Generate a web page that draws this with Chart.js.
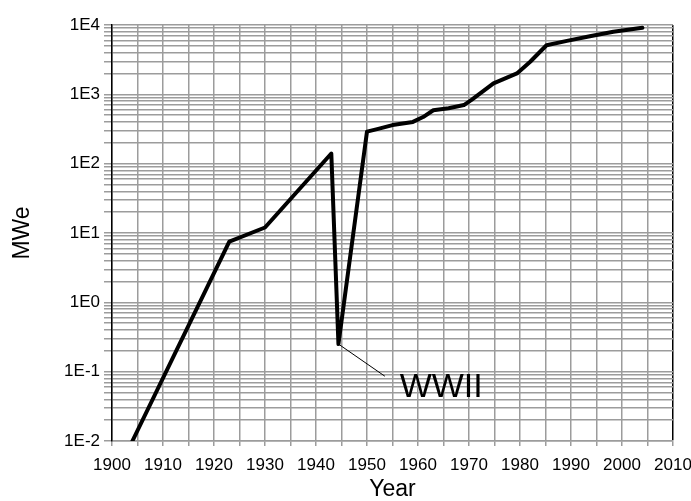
<!DOCTYPE html>
<html>
<head>
<meta charset="utf-8">
<script src="https://cdn.jsdelivr.net/npm/chart.js@4/dist/chart.umd.min.js"></script>
<style>
  html, body { margin: 0; padding: 0; background: #fff; }
  #wrap { width: 691px; height: 501px; }
</style>
</head>
<body>
<div id="wrap"><canvas id="c" width="691" height="501"></canvas></div>
<script>
// ---- data ----
const years = [1904, 1923, 1930, 1943, 1944.4, 1950, 1952, 1955, 1959, 1961, 1963, 1966, 1969, 1970.5, 1974.8, 1979.4, 1982, 1985.2, 1989.2, 1993.7, 1998.3, 2004];
const mwe   = [0.01, 7.5, 12, 140, 0.25, 290, 315, 360, 400, 470, 590, 630, 700, 830, 1440, 2000, 2950, 5100, 5900, 6900, 8000, 9100];

// leader line for the annotation
const leaderYears = [1944.4, 1953.5];
const leaderMwe   = [0.25, 0.086];
const annotationText = 'WWII';
const annotationYear = 1956.4;
const annotationMwe  = 0.059;

const yTickLabels = ['1E-2', '1E-1', '1E0', '1E1', '1E2', '1E3', '1E4'];
const yDecades    = [0.01, 0.1, 1, 10, 100, 1000, 10000];
const xMin = 1900, xMax = 2010;

const FONT = "'Liberation Sans', Arial, sans-serif";
const GRID = '#9c9c9c';

const annotationPlugin = {
  id: 'wwii',
  afterDatasetsDraw(chart) {
    const {ctx, scales} = chart;
    const x = scales.x.getPixelForValue(annotationYear);
    const y = scales.y.getPixelForValue(annotationMwe);
    ctx.save();
    ctx.font = "34px " + FONT;
    ctx.fillStyle = '#000';
    ctx.textAlign = 'left';
    ctx.textBaseline = 'middle';
    ctx.fillText(annotationText, x, y);
    ctx.restore();
  }
};

new Chart(document.getElementById('c'), {
  type: 'line',
  data: {
    datasets: [
      {
        data: years.map((yr, i) => ({x: yr, y: mwe[i]})),
        borderColor: '#000',
        borderWidth: 4,
        pointRadius: 0,
        tension: 0,
        fill: false,
        borderJoinStyle: 'round',
        borderCapStyle: 'round'
      },
      {
        data: leaderYears.map((yr, i) => ({x: yr, y: leaderMwe[i]})),
        borderColor: '#000',
        borderWidth: 1,
        pointRadius: 0,
        tension: 0,
        fill: false
      }
    ]
  },
  options: {
    responsive: false,
    animation: false,
    devicePixelRatio: 1,
    layout: { padding: { top: 25, right: 18, left: 0, bottom: 0 } },
    plugins: { legend: { display: false }, tooltip: { enabled: false } },
    scales: {
      x: {
        type: 'linear',
        min: xMin,
        max: xMax,
        afterFit(scale) { scale.height = 60; scale.paddingLeft = 0; scale.paddingRight = 0; },
        ticks: {
          stepSize: 5,
          autoSkip: false,
          maxRotation: 0,
          padding: 9,
          color: '#000',
          font: { family: FONT, size: 17 },
          callback: (v) => (v % 10 === 0 ? String(v) : '')
        },
        grid: {
          color: (c) => (c.tick && c.tick.value === xMax ? '#000' : GRID),
          lineWidth: 1.5,
          tickLength: 5,
          tickColor: GRID
        },
        border: { color: GRID, width: 1.5 },
        title: {
          display: true,
          text: 'Year',
          color: '#000',
          font: { family: FONT, size: 23, lineHeight: 1 },
          padding: { top: 0, bottom: 0 }
        }
      },
      y: {
        type: 'logarithmic',
        min: yDecades[0],
        max: yDecades[yDecades.length - 1],
        afterFit(scale) { scale.width = 112; },
        afterBuildTicks(scale) {
          const t = [];
          for (let d = 0; d < yDecades.length - 1; d++) {
            for (let m = 1; m <= 9; m++) t.push({ value: +(yDecades[d] * m).toPrecision(6) });
          }
          t.push({ value: yDecades[yDecades.length - 1] });
          scale.ticks = t;
        },
        ticks: {
          autoSkip: false,
          padding: 4,
          color: '#000',
          font: { family: FONT, size: 17 },
          callback: (v) => {
            const i = yDecades.findIndex(d => Math.abs(d - v) / d < 1e-6);
            return i >= 0 ? yTickLabels[i] : '';
          }
        },
        grid: {
          color: GRID,
          lineWidth: 1.5,
          tickLength: 8,
          tickColor: GRID
        },
        border: { color: '#000', width: 1.5 },
        title: {
          display: true,
          text: 'MWe',
          color: '#000',
          font: { family: FONT, size: 23, lineHeight: 1 },
          padding: { top: 11, bottom: 0 }
        }
      }
    }
  },
  plugins: [annotationPlugin]
});
</script>
</body>
</html>
